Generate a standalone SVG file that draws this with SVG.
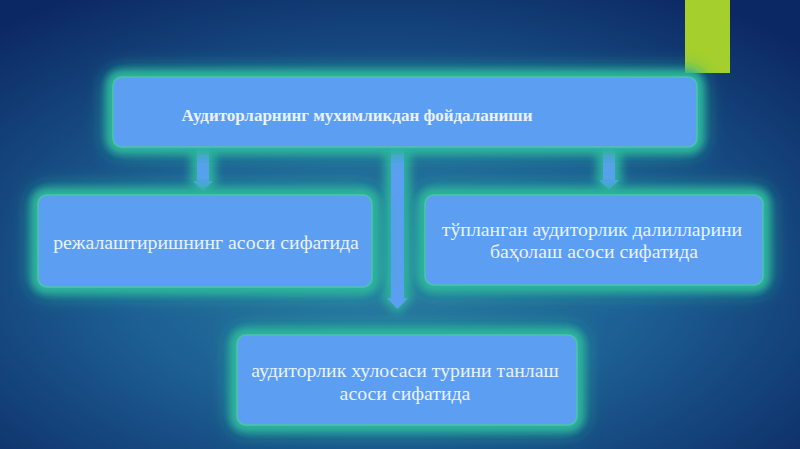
<svg xmlns="http://www.w3.org/2000/svg" width="800" height="449" viewBox="0 0 800 449">
<defs>
<radialGradient id="bg" cx="0.48" cy="0.6" r="0.72">
<stop offset="0" stop-color="#2a7ea2"/>
<stop offset="0.45" stop-color="#1d6094"/>
<stop offset="1" stop-color="#0c2864"/>
</radialGradient>
<filter id="glow" x="-20%" y="-50%" width="140%" height="200%">
<feGaussianBlur in="SourceGraphic" stdDeviation="10" result="wide"/>
<feGaussianBlur in="SourceGraphic" stdDeviation="3.5" result="tight"/>
<feMerge><feMergeNode in="wide"/><feMergeNode in="tight"/></feMerge>
</filter>
<filter id="aglow" x="-150%" y="-20%" width="400%" height="140%">
<feGaussianBlur stdDeviation="5"/>
</filter>
<style>
.halo{fill:#2db49b;filter:url(#glow)}
.box{fill:#5c9ff2;stroke:#4cc3ad;stroke-width:1.5}
.arrhalo{fill:#2db49b;filter:url(#aglow)}
.arr{fill:#5c9ff2}
.t{font-family:"Liberation Serif","Times New Roman",serif;fill:#eaf2ff;text-anchor:middle;font-size:19.8px}
.title{font-weight:bold;font-size:17px}
</style>
</defs>
<rect width="800" height="449" fill="url(#bg)"/>
<rect x="685" y="0" width="45" height="73" fill="#a5cf2c"/>

<g id="connectors">
<polygon class="arrhalo" points="191,148 215,148 215,180 219,180 203,196 187,180 191,180"/>
<polygon class="arr" points="197,148 209,148 209,181 213,181 203,191 193,181 197,181"/>
<polygon class="arrhalo" points="385,148 410,148 410,296 414,296 397,314 380,296 385,296"/>
<polygon class="arr" points="391,148 404,148 404,298 408,298 397.5,309 387,298 391,298"/>
<polygon class="arrhalo" points="597,148 621,148 621,178 625,178 609,195 593,178 597,178"/>
<polygon class="arr" points="603,148 615,148 615,180 619,180 609,190 599,180 603,180"/>
</g>

<g id="node-top">
<rect class="halo" x="107" y="71" width="596" height="82" rx="14"/>
<rect class="box" x="113" y="77" width="584" height="70" rx="9"/>
<text class="t title" x="357" y="121">Аудиторларнинг мухимликдан фойдаланиши</text>
</g>

<g id="node-left">
<rect class="halo" x="32" y="189" width="346" height="104" rx="14"/>
<rect class="box" x="38" y="195" width="334" height="92" rx="9"/>
<text class="t" x="206" y="249">режалаштиришнинг асоси сифатида</text>
</g>

<g id="node-right">
<rect class="halo" x="419" y="189" width="350" height="102" rx="14"/>
<rect class="box" x="425" y="195" width="338" height="90" rx="9"/>
<text class="t" x="592" y="236">тўпланган аудиторлик далилларини</text>
<text class="t" x="594" y="258">баҳолаш асоси сифатида</text>
</g>

<g id="node-bottom">
<rect class="halo" x="231" y="329" width="352" height="102" rx="14"/>
<rect class="box" x="237" y="335" width="340" height="90" rx="9"/>
<text class="t" x="405" y="377">аудиторлик хулосаси турини танлаш</text>
<text class="t" x="405" y="400">асоси сифатида</text>
</g>
</svg>
